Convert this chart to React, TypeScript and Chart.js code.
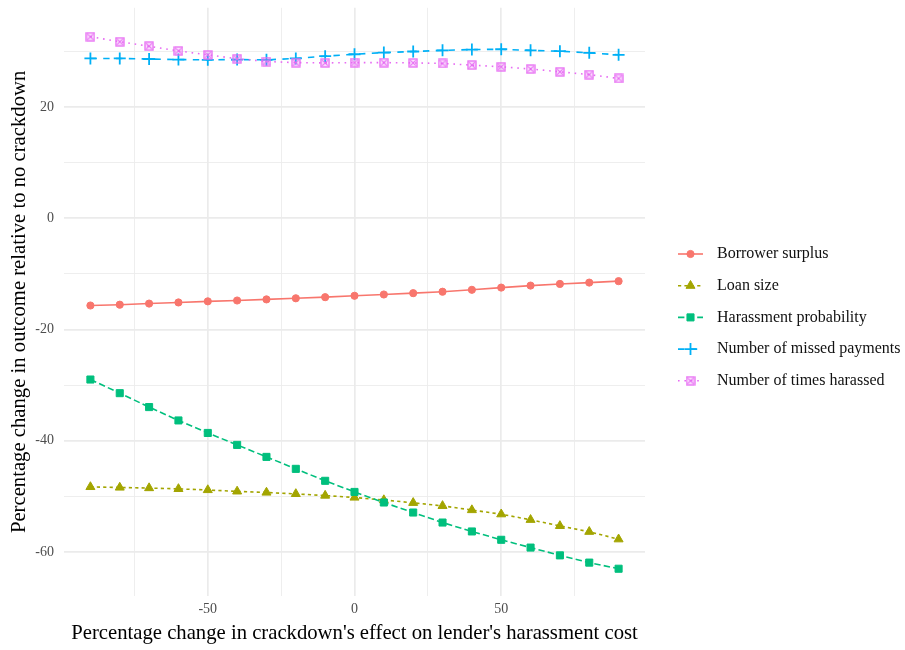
import React, { useEffect, useRef } from "react";
import { Chart, registerables } from "chart.js";

Chart.register(...registerables);

const xValues = [-90, -80, -70, -60, -50, -40, -30, -20, -10, 0, 10, 20, 30, 40, 50, 60, 70, 80, 90];

const seriesNames = [
  "Borrower surplus",
  "Loan size",
  "Harassment probability",
  "Number of missed payments",
  "Number of times harassed",
];

const borrowerSurplus = [-15.7, -15.55, -15.35, -15.15, -14.95, -14.8, -14.6, -14.4, -14.2, -13.95, -13.72, -13.48, -13.22, -12.88, -12.48, -12.12, -11.82, -11.58, -11.32];
const loanSize = [-48.3, -48.4, -48.5, -48.65, -48.85, -49.1, -49.3, -49.55, -49.85, -50.2, -50.65, -51.15, -51.7, -52.45, -53.2, -54.2, -55.3, -56.35, -57.7];
const harassmentProbability = [-29.0, -31.45, -33.95, -36.35, -38.6, -40.75, -42.9, -45.05, -47.2, -49.2, -51.1, -52.9, -54.7, -56.3, -57.8, -59.2, -60.6, -61.9, -63.0];
const missedPayments = [28.7, 28.7, 28.6, 28.5, 28.45, 28.5, 28.45, 28.7, 29.1, 29.45, 29.75, 29.95, 30.15, 30.3, 30.35, 30.15, 30.0, 29.7, 29.35];
const timesHarassed = [32.6, 31.7, 30.9, 30.05, 29.35, 28.65, 28.15, 27.95, 27.9, 27.95, 27.95, 27.9, 27.8, 27.5, 27.2, 26.8, 26.3, 25.8, 25.1];

const seriesColors = ["#F8766D", "#A3A500", "#00BF7D", "#00B0F6", "#E76BF3"];

const yGridValues = [-60, -50, -40, -30, -20, -10, 0, 10, 20, 30];
const yTickLabels = [-60, -40, -20, 0, 20];
const xGridValues = [-75, -50, -25, 0, 25, 50, 75];
const xTickLabels = [-50, 0, 50];

const FONT = "'Liberation Serif', 'DejaVu Serif', serif";

function makeBoxTimes(color: string): HTMLCanvasElement {
  const c = document.createElement("canvas");
  c.width = 10;
  c.height = 10;
  const ctx = c.getContext("2d")!;
  ctx.fillStyle = "rgba(231,107,243,0.18)";
  ctx.fillRect(1, 1, 8, 8);
  ctx.strokeStyle = color;
  ctx.lineWidth = 1.3;
  ctx.strokeRect(1, 1, 8, 8);
  ctx.lineWidth = 1.1;
  ctx.beginPath();
  ctx.moveTo(2.3, 2.3);
  ctx.lineTo(7.7, 7.7);
  ctx.moveTo(7.7, 2.3);
  ctx.lineTo(2.3, 7.7);
  ctx.stroke();
  return c;
}

function drawMarker(ctx: CanvasRenderingContext2D, ds: any, cx: number, cy: number) {
  const ps = ds.pointStyle;
  const r = ds.pointRadius;
  ctx.save();
  ctx.fillStyle = ds.pointBackgroundColor;
  ctx.strokeStyle = ds.pointBorderColor;
  ctx.lineWidth = ds.pointBorderWidth;
  ctx.setLineDash([]);
  if (ps === "circle") {
    ctx.beginPath();
    ctx.arc(cx, cy, r, 0, Math.PI * 2);
    ctx.fill();
    ctx.stroke();
  } else if (ps === "triangle") {
    ctx.beginPath();
    let rad = 0;
    ctx.moveTo(cx + Math.sin(rad) * r, cy - Math.cos(rad) * r);
    rad += (2 * Math.PI) / 3;
    ctx.lineTo(cx + Math.sin(rad) * r, cy - Math.cos(rad) * r);
    rad += (2 * Math.PI) / 3;
    ctx.lineTo(cx + Math.sin(rad) * r, cy - Math.cos(rad) * r);
    ctx.closePath();
    ctx.fill();
    ctx.stroke();
  } else if (ps === "rect") {
    const s = r * Math.SQRT1_2;
    ctx.beginPath();
    ctx.rect(cx - s, cy - s, 2 * s, 2 * s);
    ctx.fill();
    ctx.stroke();
  } else if (ps === "cross") {
    ctx.beginPath();
    ctx.moveTo(cx - r, cy);
    ctx.lineTo(cx + r, cy);
    ctx.moveTo(cx, cy - r);
    ctx.lineTo(cx, cy + r);
    ctx.stroke();
  } else if (ps && ps.width) {
    ctx.drawImage(ps, cx - ps.width / 2, cy - ps.height / 2);
  }
  ctx.restore();
}

export default function App() {
  const canvasRef = useRef<HTMLCanvasElement | null>(null);

  useEffect(() => {
    if (!canvasRef.current) return;
    const boxTimes = makeBoxTimes(seriesColors[4]);
    const values = [borrowerSurplus, loanSize, harassmentProbability, missedPayments, timesHarassed];
    const pointStyles: any[] = ["circle", "triangle", "rect", "cross", boxTimes];
    const pointRadii = [3.6, 5.2, 5, 6, 5];
    const dashes = [[], [3.2, 3.2], [6.4, 3.2], [6.4, 6.4], [1.6, 4.8]];

    const datasets = values.map((vals, i) => ({
      label: seriesNames[i],
      data: vals.map((v, j) => ({ x: xValues[j], y: v })),
      borderColor: seriesColors[i],
      backgroundColor: seriesColors[i],
      borderWidth: 1.6,
      borderDash: dashes[i],
      pointStyle: pointStyles[i],
      pointRadius: pointRadii[i],
      pointBorderWidth: i === 3 ? 1.8 : 1,
      pointBorderColor: seriesColors[i],
      pointBackgroundColor: seriesColors[i],
      tension: 0,
      order: 4 - i,
    }));

    const legendPlugin = {
      id: "customLegend",
      afterDraw(chart: any) {
        const ctx = chart.ctx;
        ctx.save();
        const lineX0 = 678;
        const lineX1 = 703;
        const textX = 717;
        const startY = 254;
        const step = 31.7;
        chart.data.datasets.forEach((ds: any, i: number) => {
          const y = startY + i * step;
          ctx.save();
          ctx.strokeStyle = ds.borderColor;
          ctx.lineWidth = ds.borderWidth;
          ctx.setLineDash(ds.borderDash || []);
          ctx.beginPath();
          ctx.moveTo(lineX0, y);
          ctx.lineTo(lineX1, y);
          ctx.stroke();
          ctx.restore();
          drawMarker(ctx, ds, (lineX0 + lineX1) / 2, y);
          ctx.fillStyle = "#111111";
          ctx.font = `16px ${FONT}`;
          ctx.textBaseline = "middle";
          ctx.textAlign = "left";
          ctx.fillText(ds.label, textX, y);
        });
        ctx.restore();
      },
    };

    const chart = new Chart(canvasRef.current, {
      type: "line",
      data: { datasets },
      options: {
        animation: false,
        responsive: false,
        devicePixelRatio: 1,
        layout: { padding: { top: 6, right: 260, left: 0, bottom: 0 } },
        plugins: {
          legend: { display: false },
          tooltip: { enabled: false },
        },
        scales: {
          x: {
            type: "linear",
            min: -99,
            max: 99,
            border: { display: false },
            afterFit: (scale: any) => {
              scale.height = 54;
              scale.paddingLeft = 0;
              scale.paddingRight = 0;
            },
            afterBuildTicks: (scale: any) => {
              scale.ticks = xGridValues.map((v) => ({ value: v }));
            },
            grid: {
              drawTicks: false,
              color: "#EBEBEB",
              lineWidth: (c: any) => (xTickLabels.includes(c.tick?.value) ? 1.7 : 0.85),
            },
            ticks: {
              autoSkip: false,
              maxRotation: 0,
              padding: 5,
              color: "#4D4D4D",
              font: { family: FONT, size: 14 },
              callback: (v: any) => (xTickLabels.includes(Number(v)) ? String(v) : ""),
            },
            title: {
              display: true,
              text: "Percentage change in crackdown's effect on lender's harassment cost",
              color: "#000000",
              font: { family: FONT, size: 20.7 },
              padding: { top: 0, bottom: 4 },
            },
          },
          y: {
            type: "linear",
            min: -67.9,
            max: 37.8,
            border: { display: false },
            afterFit: (scale: any) => {
              scale.width = 64;
              scale.paddingTop = 0;
              scale.paddingBottom = 0;
            },
            afterBuildTicks: (scale: any) => {
              scale.ticks = yGridValues.map((v) => ({ value: v }));
            },
            grid: {
              drawTicks: false,
              color: "#EBEBEB",
              lineWidth: (c: any) => (yTickLabels.includes(c.tick?.value) ? 1.7 : 0.85),
            },
            ticks: {
              autoSkip: false,
              padding: 10,
              color: "#4D4D4D",
              font: { family: FONT, size: 14 },
              callback: (v: any) => (yTickLabels.includes(Number(v)) ? String(v) : ""),
            },
            title: {
              display: true,
              text: "Percentage change in outcome relative to no crackdown",
              color: "#000000",
              font: { family: FONT, size: 20.7 },
              padding: { top: 7, bottom: 0 },
            },
          },
        },
      },
      plugins: [legendPlugin],
    } as any);

    return () => {
      chart.destroy();
    };
  }, []);

  return (
    <div style={{ position: "absolute", left: 0, top: 0, width: 905, height: 650, background: "#ffffff" }}>
      <canvas ref={canvasRef} width={905} height={650} style={{ display: "block" }} />
    </div>
  );
}
